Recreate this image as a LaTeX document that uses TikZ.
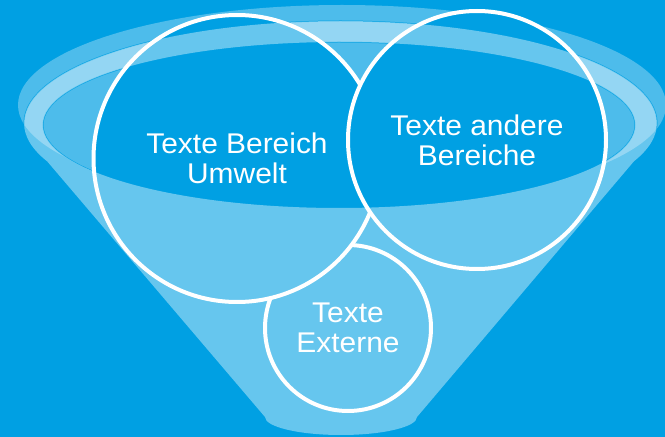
\documentclass[tikz,border=0pt]{standalone}
\usepackage{fontspec}
\setmainfont{Liberation Sans}[FakeStretch=1.05]
\usepackage{xcolor}
\usepackage{tikz}
\definecolor{funnelbg}{RGB}{0,160,227}

\begin{document}
\begin{tikzpicture}[x=1pt, y=1pt,
    bubble/.style={circle, draw=white, line width=4pt, fill=funnelbg, text=white, align=center, inner sep=0pt, font=\fontsize{28.5}{30}\selectfont},
    rimline/.style={draw=funnelbg, line width=1pt}
]

% Background
\useasboundingbox (0,0) rectangle (665,437);
\fill[funnelbg] (0,0) rectangle (665,437);

% Funnel rim, back part
\fill[white, opacity=0.3] (342,332) ellipse [x radius=324, y radius=100]
    (339,312) ellipse [x radius=296, y radius=83];
\draw[rimline] (340.5,314) ellipse [x radius=316.5, y radius=102];
\draw[rimline] (339,312) ellipse [x radius=296, y radius=83];

% Circles
\node[bubble, minimum size=166pt] (extern) at (348,109) {Texte\\Externe};
\node[bubble, minimum size=287pt] (umwelt) at (237,278.5) {Texte Bereich\\Umwelt};
\node[bubble, minimum size=258pt] (andere) at (477,297) {Texte andere\\Bereiche};

% Funnel, front part (opening left out)
\begin{scope}
  \clip (339,312) ellipse [x radius=296, y radius=83]
      (0,0) -- (0,437) -- (665,437) -- (665,0) -- cycle;
  \fill[white, opacity=0.4] (340.5,314) ellipse [x radius=316.5, y radius=102]
      (29,297) -- (265,20) -- (417,20) -- (652,297) -- cycle
      (341,20) ellipse [x radius=76, y radius=18];
\end{scope}

\end{tikzpicture}
\end{document}
